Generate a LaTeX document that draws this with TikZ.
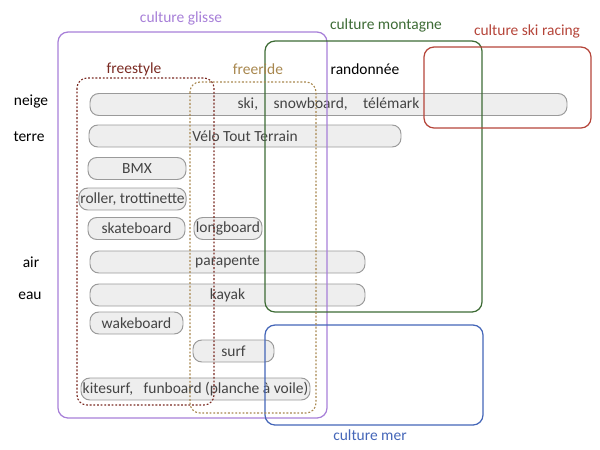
\documentclass[tikz,border=0pt]{standalone}
\usepackage{fontspec}
\setmainfont{Carlito}
\definecolor{violetglisse}{HTML}{A77FD8}
\definecolor{vertmontagne}{HTML}{3D6B35}
\definecolor{rougeracing}{HTML}{B5453A}
\definecolor{bleumer}{HTML}{4466B8}
\definecolor{brunfreestyle}{HTML}{7A2A22}
\definecolor{ocrefreeride}{HTML}{A8874E}
\definecolor{grispiste}{HTML}{EEEEEE}
\definecolor{traitpiste}{HTML}{9A9A9A}
\definecolor{textepiste}{HTML}{444444}
\tikzset{
  piste/.style={draw=traitpiste, fill=grispiste, line width=0.7pt, rounded corners=0.22cm,
    minimum height=0.55cm, inner xsep=1pt, inner ysep=0pt, text=textepiste},
  culture/.style={line width=0.9pt, rounded corners=0.25cm},
  courant/.style={line width=0.8pt, dash pattern=on 1.3pt off 1.3pt, rounded corners=0.25cm}
}
\begin{document}
\begin{tikzpicture}[font=\fontsize{11}{13}\selectfont]
\useasboundingbox (0,0) rectangle (15,-11.25);
\node [piste, minimum width=11.925cm] (ski) at (8.2125,-2.6125) {ski,\quad snowboard,\quad télémark};
\node [piste, minimum width=7.8cm] (vtt) at (6.125,-3.4) {Vélo Tout Terrain};
\node [piste, minimum width=2.45cm] (bmx) at (3.425,-4.2125) {BMX};
\node [piste, minimum width=2.675cm] (roller) at (3.3125,-4.975) {roller, trottinette};
\node [piste, minimum width=2.425cm] (skate) at (3.4125,-5.7125) {skateboard};
\node [piste, minimum width=1.7cm] (longboard) at (5.7,-5.7125) {longboard};
\node [piste, minimum width=6.875cm] (parapente) at (5.6875,-6.55) {parapente};
\node [piste, minimum width=6.875cm] (kayak) at (5.6875,-7.375) {kayak};
\node [piste, minimum width=2.325cm] (wakeboard) at (3.4125,-8.075) {wakeboard};
\node [piste, minimum width=2.025cm] (surf) at (5.8375,-8.775) {surf};
\node [piste, minimum width=5.725cm] (kitesurf) at (4.8875,-9.725) {kitesurf,\ \ \ funboard (planche à voile)};
\draw [culture, violetglisse] (1.45,-0.8) rectangle (8.175,-10.45);
\draw [culture, vertmontagne] (6.625,-1.025) rectangle (12.05,-7.8);
\draw [culture, rougeracing] (10.6,-1.175) rectangle (14.775,-3.2);
\draw [culture, bleumer] (6.625,-8.125) rectangle (12.075,-10.625);
\draw [courant, brunfreestyle] (1.925,-1.95) rectangle (5.35,-10.125);
\draw [courant, ocrefreeride] (4.75,-2.05) rectangle (7.9,-10.325);
\draw (4.525,-0.45) node [violetglisse] (glisse) {culture glisse};
\draw (9.65,-0.625) node [vertmontagne] (montagne) {culture montagne};
\draw (13.175,-0.775) node [rougeracing] (racing) {culture ski racing};
\draw (9.25,-10.875) node [bleumer] (mer) {culture mer};
\draw (3.35,-1.725) node [brunfreestyle] (freestyle) {freestyle};
\draw (6.45,-1.725) node [ocrefreeride] (freeride) {freeride};
\draw (9.125,-1.725) node (randonnee) {randonnée};
\draw (0.775,-2.55) node (neige) {neige};
\draw (0.725,-3.425) node (terre) {terre};
\draw (0.775,-6.55) node (air) {air};
\draw (0.75,-7.4) node (eau) {eau};
\end{tikzpicture}
\end{document}
